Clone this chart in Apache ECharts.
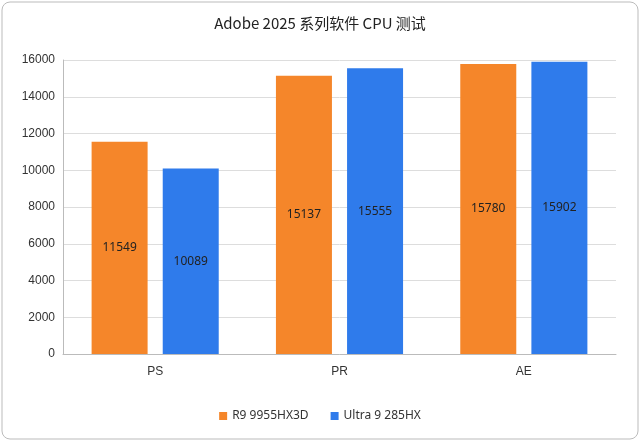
<!DOCTYPE html>
<html><head><meta charset="utf-8">
<script src="https://cdn.jsdelivr.net/npm/echarts@6/dist/echarts.min.js"></script>
<style>html,body{margin:0;padding:0;background:#fff}#c{width:640px;height:441px}</style>
</head><body><div id="c"></div>
<script>
const categories = ['PS','PR','AE'];
const seriesNames = ['R9 9955HX3D','Ultra 9 285HX'];
const r9 = [11549,15137,15780];
const ultra = [10089,15555,15902];
const chart = echarts.init(document.getElementById('c'));
const lbl = {show:true,position:'inside',color:'#222',fontSize:12,fontFamily:'Noto Sans'};
chart.setOption({
  animation:false,
  graphic:[{type:'rect',shape:{x:2,y:2,width:636,height:437,r:8},style:{fill:'none',stroke:'#bbb',lineWidth:1}}],
  title:{text:'Adobe 2025 系列软件 CPU 测试',left:'center',top:11,textStyle:{fontSize:15,fontWeight:'normal',color:'#222',fontFamily:'Noto Sans CJK SC'}},
  legend:{bottom:14,itemWidth:8,itemHeight:8,icon:'rect',itemGap:22,textStyle:{fontSize:12,color:'#333',fontFamily:'Noto Sans'}},
  grid:{left:63,right:24,top:60,bottom:87},
  xAxis:{type:'category',data:categories,axisTick:{show:false},axisLine:{lineStyle:{color:'#bbb'}},axisLabel:{color:'#333',fontSize:12,margin:12}},
  yAxis:{type:'value',min:0,max:16000,interval:2000,axisLine:{show:true,lineStyle:{color:'#bbb'}},splitLine:{lineStyle:{color:'#ddd'}},axisLabel:{color:'#333',fontSize:12,formatter:v=>String(v)}},
  series:[
    {name:seriesNames[0],type:'bar',data:r9,barWidth:56,barGap:'27%',itemStyle:{color:'#F5862A'},label:lbl},
    {name:seriesNames[1],type:'bar',data:ultra,barWidth:56,itemStyle:{color:'#2F7BEB'},label:lbl}
  ]
});
</script></body></html>
